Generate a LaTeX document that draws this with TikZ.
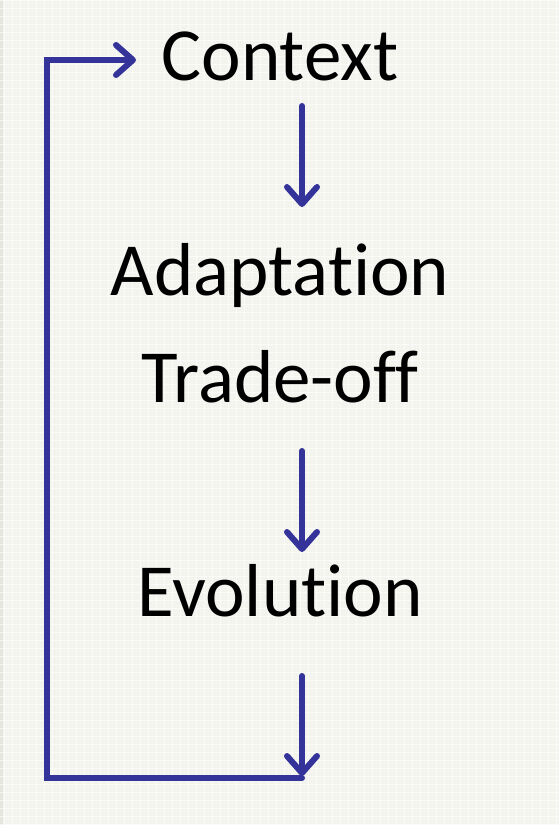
\documentclass[tikz,border=0pt]{standalone}
\usepackage{fontspec}
\setmainfont[Ligatures={NoCommon}]{Carlito}
\usetikzlibrary{arrows.meta}
\definecolor{paper}{HTML}{F3F4EE}
\definecolor{paperedge}{HTML}{E6E6DE}
\definecolor{flow}{HTML}{333399}
\begin{document}
\begin{tikzpicture}[x=1bp,y=-1bp,
  word/.style={font=\fontsize{75bp}{80bp}\selectfont, inner sep=0pt, anchor=base},
  flowline/.style={draw=flow, line width=6bp, line cap=round, line join=miter},
  flowarrow/.style={flowline, -{Straight Barb[length=17bp,width=30bp,round]}}]
  % background paper and its darker left rim
  \fill[paper] (0,0) rectangle (559,825);
  \fill[paperedge] (0,0) rectangle (3,825);
  \useasboundingbox (0,0) rectangle (559,825);
  % grid texture
  \foreach \g in {0,8,...,825} {
    \draw[white, line width=0.6bp, opacity=0.6] (0,\g) -- (559,\g);
  }
  \foreach \g in {4,12,...,559} {
    \draw[white, line width=0.6bp, opacity=0.6] (\g,0) -- (\g,825);
  }

  % words
  \node[word] (ctx)   at (280,80)  {Context};
  \node[word] (adapt) at (280,295) {Adaptation};
  \node[word] (trade) at (280,402) {Trade-off};
  \node[word] (evo)   at (280,616) {Evolution};

  % arrow end points
  \coordinate (a1s) at (302,106);
  \coordinate (a1e) at (302,207);
  \coordinate (a2s) at (302,451);
  \coordinate (a2e) at (302,552);
  \coordinate (a3s) at (302,676);
  \coordinate (a3e) at (302,776);
  \coordinate (loopstart) at (302,778);
  \coordinate (loopbl) at (47,778);
  \coordinate (looptl) at (47,60);
  \coordinate (loopend) at (136,60);

  % downward flow
  \draw[flowarrow] (a1s) -- (a1e);
  \draw[flowarrow] (a2s) -- (a2e);
  \draw[flowarrow] (a3s) -- (a3e);

  % feedback loop back to the context
  \draw[flowarrow] (loopstart) -- (loopbl) -- (looptl) -- (loopend);
\end{tikzpicture}
\end{document}
